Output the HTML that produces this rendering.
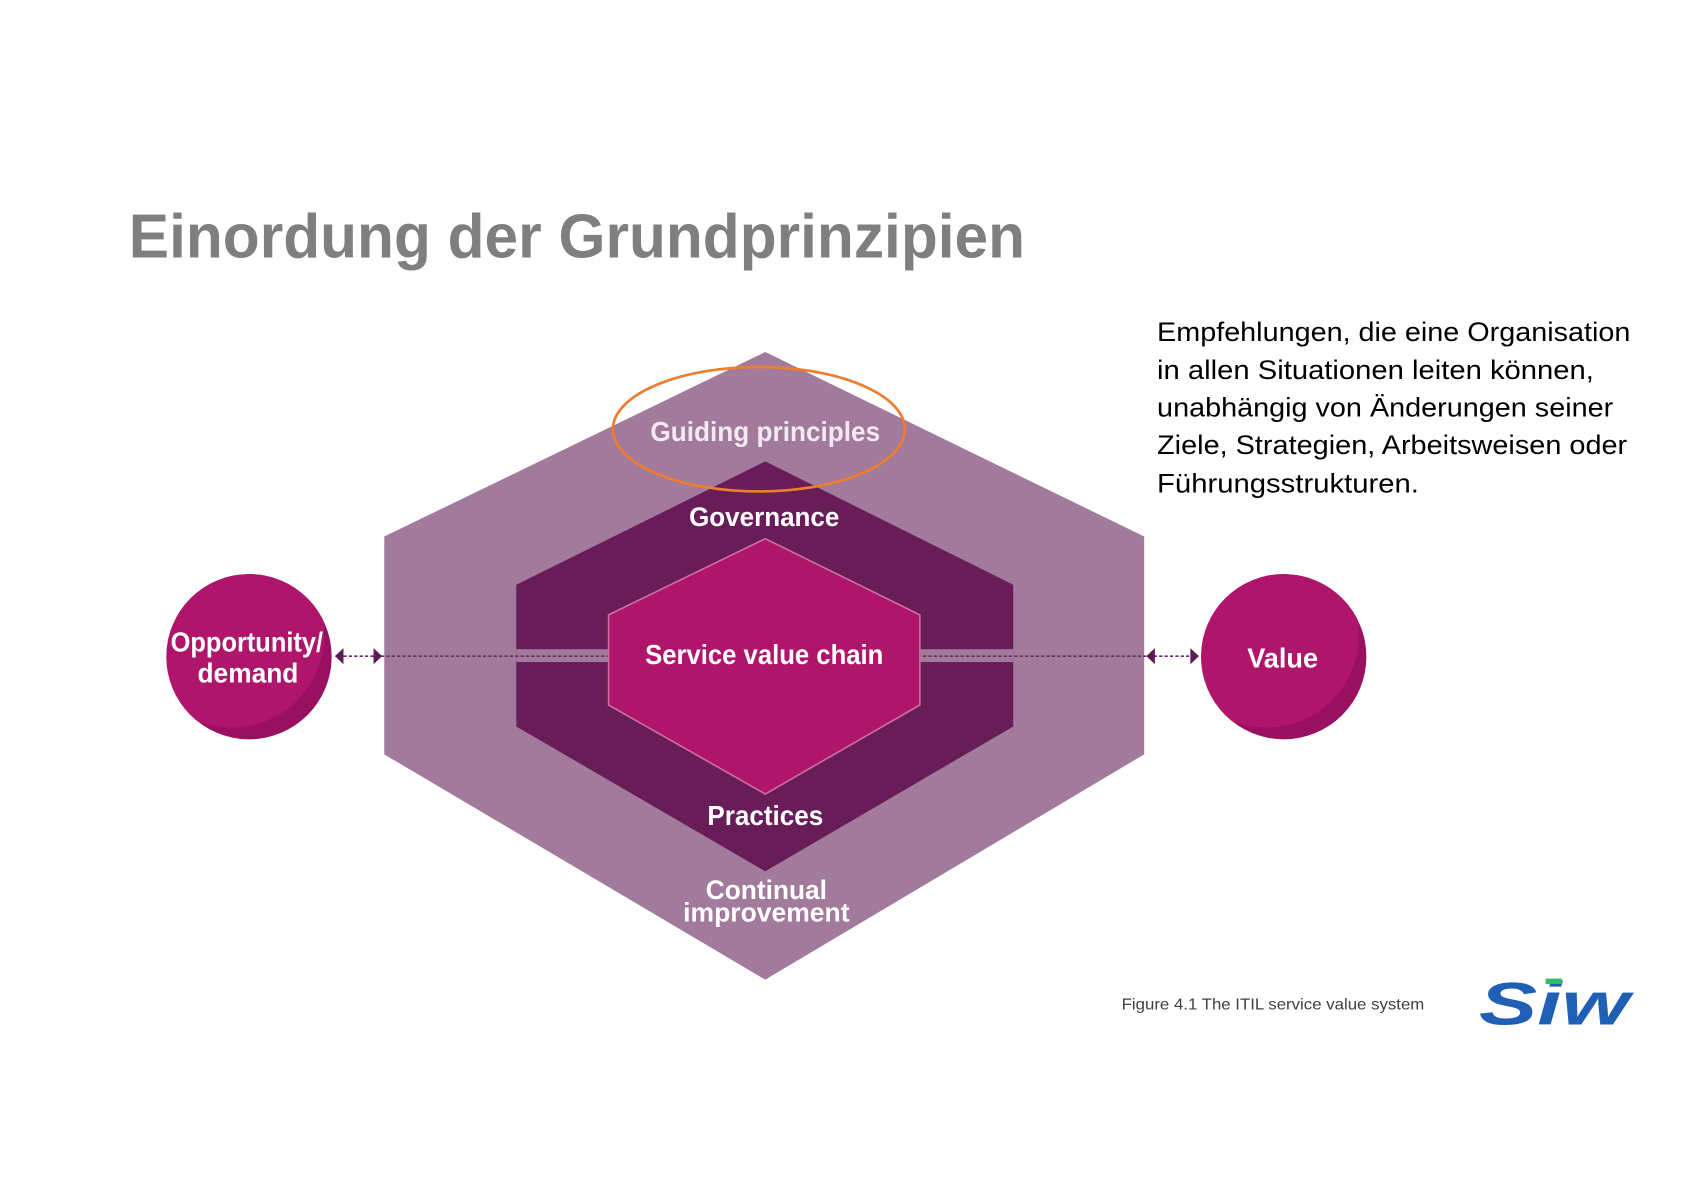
<!DOCTYPE html>
<html><head><meta charset="utf-8"><style>
html,body{margin:0;padding:0;background:#fff;overflow:hidden}
svg{display:block}
</style></head><body>
<svg width="1683" height="1190" viewBox="0 0 1568 1109" preserveAspectRatio="none" xmlns="http://www.w3.org/2000/svg" font-family="'Liberation Sans', sans-serif">
<rect width="1568" height="1109" fill="#fff"/>
<text x="120" y="240" font-size="58" font-weight="bold" fill="#7f7f7f" textLength="835" lengthAdjust="spacingAndGlyphs">Einordung der Grundprinzipien</text>

<polygon points="713,328 1066,500 1066,703 713,913 358,703 358,500" fill="#a27a9c"/>
<polygon points="713,430 944,545 944,677 713,812 481,677 481,545" fill="#681c58"/>
<rect x="481" y="605" width="463" height="12" fill="#a27a9c"/>
<line x1="320" y1="611.5" x2="1112" y2="611.5" stroke="#6a2b5f" stroke-width="1.5" stroke-dasharray="3,2"/>
<polygon points="713,502 857,573 857,657 713,740 567,657 567,573" fill="#b0156c" stroke="#cf6ea3" stroke-width="1.5"/>

<polygon points="312,611.5 320,604 320,619" fill="#5e1b55"/>
<polygon points="356,611.5 348,604 348,619" fill="#5e1b55"/>
<polygon points="1068,611.5 1076,604 1076,619" fill="#5e1b55"/>
<polygon points="1117,611.5 1109,604 1109,619" fill="#5e1b55"/>

<defs>
<clipPath id="cl"><circle cx="232" cy="612" r="77"/></clipPath>
<clipPath id="cr"><circle cx="1196" cy="612" r="77"/></clipPath>
</defs>
<circle cx="232" cy="612" r="77" fill="#9a1060"/>
<circle cx="216" cy="592" r="86" fill="#b0156c" clip-path="url(#cl)"/>
<circle cx="1196" cy="612" r="77" fill="#9a1060"/>
<circle cx="1180" cy="592" r="86" fill="#b0156c" clip-path="url(#cr)"/>

<g fill="#fff" font-weight="bold" text-anchor="middle">
<text x="713" y="411" font-size="26" textLength="214" lengthAdjust="spacingAndGlyphs" fill="#f3eaf1">Guiding principles</text>
<text x="712" y="490" font-size="25" textLength="140" lengthAdjust="spacingAndGlyphs">Governance</text>
<text x="712" y="619" font-size="26" textLength="222" lengthAdjust="spacingAndGlyphs">Service value chain</text>
<text x="713" y="769" font-size="26" textLength="108" lengthAdjust="spacingAndGlyphs">Practices</text>
<text x="714" y="838" font-size="25" textLength="113" lengthAdjust="spacingAndGlyphs">Continual</text>
<text x="714" y="859" font-size="25" textLength="155" lengthAdjust="spacingAndGlyphs">improvement</text>
<text x="230" y="607" font-size="26" textLength="142" lengthAdjust="spacingAndGlyphs">Opportunity/</text>
<text x="231" y="636" font-size="26" textLength="94" lengthAdjust="spacingAndGlyphs">demand</text>
<text x="1195" y="622" font-size="26" textLength="66" lengthAdjust="spacingAndGlyphs">Value</text>
</g>

<ellipse cx="707" cy="400" rx="136" ry="58" fill="none" stroke="#ed7d31" stroke-width="2.5"/>

<g font-size="25" fill="#000">
<text x="1078" y="318" textLength="441" lengthAdjust="spacingAndGlyphs">Empfehlungen, die eine Organisation</text>
<text x="1078" y="353" textLength="407" lengthAdjust="spacingAndGlyphs">in allen Situationen leiten können,</text>
<text x="1078" y="388" textLength="425" lengthAdjust="spacingAndGlyphs">unabhängig von Änderungen seiner</text>
<text x="1078" y="423" textLength="438" lengthAdjust="spacingAndGlyphs">Ziele, Strategien, Arbeitsweisen oder</text>
<text x="1078" y="459" textLength="244" lengthAdjust="spacingAndGlyphs">Führungsstrukturen.</text>
</g>

<text x="1045" y="941" font-size="15" fill="#404040" textLength="282" lengthAdjust="spacingAndGlyphs">Figure 4.1  The ITIL service value system</text>

<text x="1378" y="955" font-size="56" font-weight="bold" font-style="italic" fill="#1f5fb5" textLength="140" lengthAdjust="spacingAndGlyphs">Siw</text>
<rect x="1440" y="912" width="15" height="5" fill="#2ebd6b"/>
</svg>
</body></html>
